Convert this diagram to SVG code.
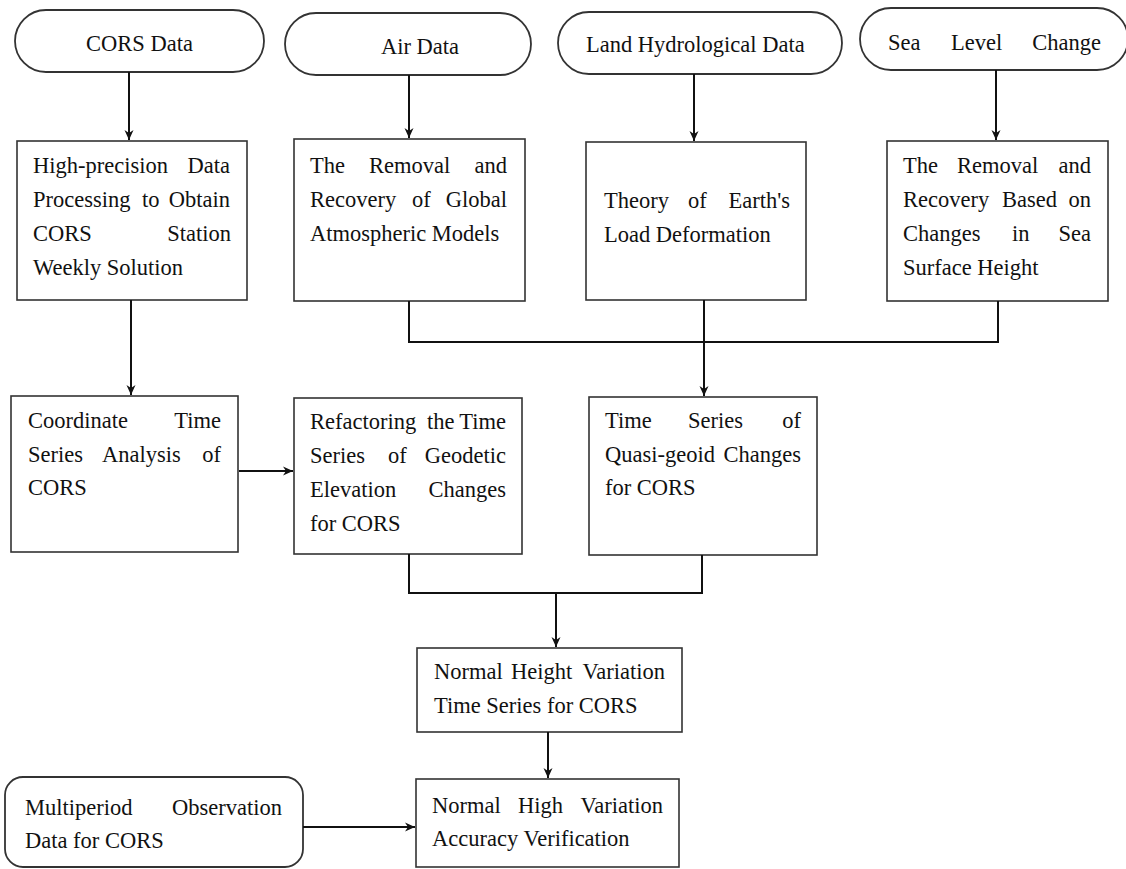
<svg xmlns="http://www.w3.org/2000/svg" width="1126" height="869" viewBox="0 0 1126 869">
<defs>
<style>
.box{fill:#fff;stroke:#333;stroke-width:1.6}
.pill{fill:#fff;stroke:#333;stroke-width:1.8}
.t{font-family:"Liberation Serif","Times New Roman","DejaVu Serif",serif;font-size:22.5px;fill:#111}
.e{text-anchor:end}
.c{fill:none;stroke:#111;stroke-width:2}
</style>
<marker id="ah" markerUnits="userSpaceOnUse" markerWidth="12" markerHeight="12" viewBox="0 0 12 12" refX="11" refY="6" orient="auto">
<path d="M1,1.5 L11,6 L1,10.5 L4,6 Z" fill="#111"/>
</marker>
</defs>
<rect width="1126" height="869" fill="#fff"/>

<g id="n-cors-data">
<rect class="pill" x="15" y="10" width="249" height="62" rx="31"/>
<text class="t" x="86" y="51">CORS Data</text>
</g>
<g id="n-air-data">
<rect class="pill" x="285" y="13" width="246" height="62" rx="31"/>
<text class="t" x="381" y="54">Air Data</text>
</g>
<g id="n-land-data">
<rect class="pill" x="558" y="12" width="284" height="62" rx="31"/>
<text class="t" x="586" y="52">Land Hydrological Data</text>
</g>
<g id="n-sea-level">
<rect class="pill" x="860" y="8" width="268" height="62" rx="31"/>
<text class="t" y="50"><tspan x="888">Sea</tspan><tspan x="951">Level</tspan><tspan x="1101" class="e">Change</tspan></text>
</g>

<g id="n-high-precision">
<rect class="box" x="17" y="141" width="230" height="159"/>
<text class="t" y="173"><tspan x="33">High-precision</tspan><tspan x="230" class="e">Data</tspan></text>
<text class="t" y="207"><tspan x="33">Processing</tspan><tspan x="142">to</tspan><tspan x="230" class="e">Obtain</tspan></text>
<text class="t" y="241"><tspan x="33">CORS</tspan><tspan x="231" class="e">Station</tspan></text>
<text class="t" x="33" y="275">Weekly Solution</text>
</g>
<g id="n-atmos">
<rect class="box" x="294" y="139" width="231" height="162"/>
<text class="t" y="173"><tspan x="310">The</tspan><tspan x="369">Removal</tspan><tspan x="507" class="e">and</tspan></text>
<text class="t" y="207"><tspan x="310">Recovery</tspan><tspan x="412">of</tspan><tspan x="507" class="e">Global</tspan></text>
<text class="t" x="310" y="241">Atmospheric Models</text>
</g>
<g id="n-load">
<rect class="box" x="586" y="142" width="220" height="158"/>
<text class="t" y="208"><tspan x="604">Theory</tspan><tspan x="688">of</tspan><tspan x="790" class="e">Earth's</tspan></text>
<text class="t" x="604" y="242">Load Deformation</text>
</g>
<g id="n-sea-surface">
<rect class="box" x="887" y="141" width="221" height="160"/>
<text class="t" y="173"><tspan x="903">The</tspan><tspan x="957">Removal</tspan><tspan x="1091" class="e">and</tspan></text>
<text class="t" y="207"><tspan x="903">Recovery</tspan><tspan x="1002">Based</tspan><tspan x="1091" class="e">on</tspan></text>
<text class="t" y="241"><tspan x="903">Changes</tspan><tspan x="1012">in</tspan><tspan x="1091" class="e">Sea</tspan></text>
<text class="t" x="903" y="275">Surface Height</text>
</g>

<g id="n-coordinate">
<rect class="box" x="11" y="396" width="227" height="156"/>
<text class="t" y="428"><tspan x="28">Coordinate</tspan><tspan x="221" class="e">Time</tspan></text>
<text class="t" y="462"><tspan x="28">Series</tspan><tspan x="102">Analysis</tspan><tspan x="221" class="e">of</tspan></text>
<text class="t" x="28" y="495">CORS</text>
</g>
<g id="n-refactoring">
<rect class="box" x="294" y="398" width="228" height="156"/>
<text class="t" y="429"><tspan x="310">Refactoring</tspan><tspan x="427">the</tspan><tspan x="506" class="e">Time</tspan></text>
<text class="t" y="463"><tspan x="310">Series</tspan><tspan x="388">of</tspan><tspan x="506" class="e">Geodetic</tspan></text>
<text class="t" y="497"><tspan x="310">Elevation</tspan><tspan x="506" class="e">Changes</tspan></text>
<text class="t" x="310" y="531">for CORS</text>
</g>
<g id="n-quasi">
<rect class="box" x="589" y="397" width="228" height="158"/>
<text class="t" y="428"><tspan x="605">Time</tspan><tspan x="688">Series</tspan><tspan x="801" class="e">of</tspan></text>
<text class="t" y="462"><tspan x="605">Quasi-geoid</tspan><tspan x="801" class="e">Changes</tspan></text>
<text class="t" x="605" y="495">for CORS</text>
</g>

<g id="n-normal-height">
<rect class="box" x="417" y="648" width="265" height="84"/>
<text class="t" y="679"><tspan x="434">Normal</tspan><tspan x="511">Height</tspan><tspan x="665" class="e">Variation</tspan></text>
<text class="t" x="434" y="713">Time Series for CORS</text>
</g>
<g id="n-multiperiod">
<rect class="pill" x="5" y="777" width="298" height="90" rx="18"/>
<text class="t" y="815"><tspan x="25">Multiperiod</tspan><tspan x="282" class="e">Observation</tspan></text>
<text class="t" x="25" y="848">Data for CORS</text>
</g>
<g id="n-accuracy">
<rect class="box" x="416" y="779" width="263" height="88"/>
<text class="t" y="813"><tspan x="432">Normal</tspan><tspan x="518">High</tspan><tspan x="663" class="e">Variation</tspan></text>
<text class="t" x="432" y="846">Accuracy Verification</text>
</g>

<g id="connectors">
<path class="c" d="M129,72 V140" marker-end="url(#ah)"/>
<path class="c" d="M409,75 V138" marker-end="url(#ah)"/>
<path class="c" d="M694,74 V141" marker-end="url(#ah)"/>
<path class="c" d="M996,70 V140" marker-end="url(#ah)"/>
<path class="c" d="M131,300 V395" marker-end="url(#ah)"/>
<path class="c" d="M409,301 V342 H998 V301"/>
<path class="c" d="M704,300 V396" marker-end="url(#ah)"/>
<path class="c" d="M239,471 H293" marker-end="url(#ah)"/>
<path class="c" d="M409,554 V593 H702 V555"/>
<path class="c" d="M556,593 V647" marker-end="url(#ah)"/>
<path class="c" d="M548,732 V778" marker-end="url(#ah)"/>
<path class="c" d="M303,827 H415" marker-end="url(#ah)"/>
</g>
</svg>
